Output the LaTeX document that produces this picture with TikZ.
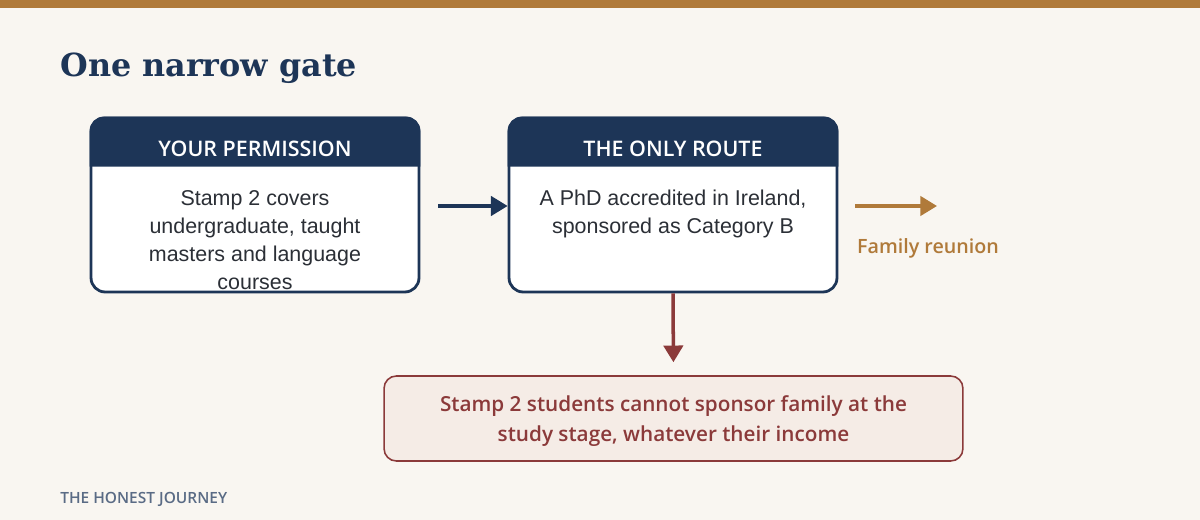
\documentclass[tikz,border=0pt]{standalone}
\usepackage{fontspec}
\setmainfont{Liberation Sans}
\newfontfamily\titlefont{DejaVu Serif}
\newfontfamily\capsfont{Open Sans Semibold}
\newfontfamily\notefont{Open Sans Semibold}
\usetikzlibrary{arrows.meta,positioning}
\definecolor{navy}{HTML}{1D3557}
\definecolor{ochre}{HTML}{B07A3A}
\definecolor{brick}{HTML}{8B3A3A}
\definecolor{paper}{HTML}{F9F6F1}
\definecolor{blush}{HTML}{F5ECE6}
\definecolor{ink}{HTML}{2B2F36}
\definecolor{slate}{HTML}{5A6B85}

\begin{document}
\begin{tikzpicture}[
  x=0.02cm, y=-0.02cm,
  >={Triangle[length=9.5pt,width=11pt]},
  card/.style={draw=navy, line width=1.6pt, fill=white, rounded corners=8pt,
    minimum width=6.56cm, minimum height=3.48cm, inner sep=0pt},
  cardhead/.style={text=white, inner sep=0pt, anchor=base,
    font=\capsfont\fontsize{12.2}{14}\selectfont},
  cardbody/.style={text=ink, align=center, inner sep=0pt,
    font=\fontsize{12.2}{15.9}\selectfont},
  link/.style={->, line width=2pt}
]
% ── page ──────────────────────────────────────────────────────────────────
\fill[paper] (0,0) rectangle (1200,520);
\fill[ochre] (0,0) rectangle (1200,8);
\node[anchor=base west, inner sep=0pt, text=navy,
  font=\titlefont\bfseries\fontsize{18.1}{20}\selectfont] (title) at (60,77)
  {One narrow gate};

% ── permission card ───────────────────────────────────────────────────────
\node[card] (perm) at (255,205) {};
\fill[navy] ([yshift=-1cm]perm.north west) [rounded corners=8pt]
  -- (perm.north west) -- (perm.north east) [sharp corners]
  -- ([yshift=-1cm]perm.north east) -- cycle;
\node[cardhead] (permhead) at ([yshift=-0.8cm]perm.north) {YOUR PERMISSION};
\node[cardbody, anchor=north] (permtext) at ([yshift=-1.47cm]perm.north)
  {Stamp 2 covers\\undergraduate, taught\\masters and language\\courses};

% ── route card ────────────────────────────────────────────────────────────
\node[card] (route) at (673,205) {};
\fill[navy] ([yshift=-1cm]route.north west) [rounded corners=8pt]
  -- (route.north west) -- (route.north east) [sharp corners]
  -- ([yshift=-1cm]route.north east) -- cycle;
\node[cardhead] (routehead) at ([yshift=-0.8cm]route.north) {THE ONLY ROUTE};
\node[cardbody, anchor=north] (routetext) at ([yshift=-1.47cm]route.north)
  {A PhD accredited in Ireland,\\sponsored as Category B};

% ── outcomes ──────────────────────────────────────────────────────────────
\node[text=ochre, font=\notefont\fontsize{11.2}{14}\selectfont] (reunion)
  at (928,248) {Family reunion};
\coordinate (reunionend) at (937,206);

\node[draw=brick, line width=0.9pt, fill=blush, rounded corners=7pt,
  minimum width=11.58cm, minimum height=1.7cm, align=center, text=brick,
  text depth=0pt, font=\notefont\fontsize{11.8}{17}\selectfont] (note)
  at (673.5,418.5)
  {Stamp 2 students cannot sponsor family at the\\study stage, whatever their income};

% ── arrows ────────────────────────────────────────────────────────────────
\draw[link, navy, shorten <=0.36cm] (perm.east |- 0,206) -- (route.west |- 0,206);
\draw[link, ochre, shorten <=0.34cm] (route.east |- 0,206) -- (reunionend);
\draw[link, brick, shorten >=0.26cm] (route.south) -- (note.north);

% ── footer ────────────────────────────────────────────────────────────────
\node[anchor=base west, inner sep=0pt, text=slate,
  font=\capsfont\fontsize{8.8}{10}\selectfont] (brand) at (60,503)
  {THE HONEST JOURNEY};
\end{tikzpicture}
\end{document}
